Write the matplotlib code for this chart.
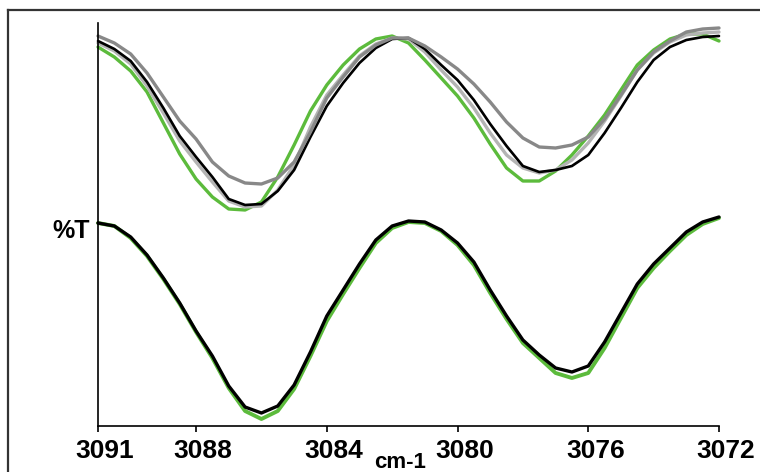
import numpy as np
import matplotlib.pyplot as plt
from matplotlib.lines import Line2D
from matplotlib.transforms import ScaledTranslation

# wavenumber grid, cm-1 (every 0.5 from 3091 down to 3072)
wavenumber = [3091.0, 3090.5, 3090.0, 3089.5, 3089.0, 3088.5, 3088.0, 3087.5, 3087.0, 3086.5,
              3086.0, 3085.5, 3085.0, 3084.5, 3084.0, 3083.5, 3083.0, 3082.5, 3082.0, 3081.5,
              3081.0, 3080.5, 3080.0, 3079.5, 3079.0, 3078.5, 3078.0, 3077.5, 3077.0, 3076.5,
              3076.0, 3075.5, 3075.0, 3074.5, 3074.0, 3073.5, 3073.0, 3072.5, 3072.0]

# upper set of spectra (%T, arbitrary units)
top_green = [379, 369, 355, 334, 303, 272, 247, 229, 217, 216, 224, 249, 281, 315, 341, 361, 377, 387, 390, 383,
             366, 348, 330, 308, 282, 258, 245, 245, 255, 271, 290, 311, 336, 361, 376, 387, 392, 392, 385]
top_black = [385, 377, 365, 344, 318, 290, 269, 249, 227, 221, 222, 235, 256, 289, 320, 343, 363, 378, 387, 388,
             377, 361, 346, 326, 302, 280, 260, 254, 256, 260, 271, 293, 318, 344, 366, 379, 386, 389, 390]
top_lightgray = [383, 375, 362, 340, 313, 285, 264, 244, 225, 219, 220, 236, 261, 299, 331, 351, 370, 382, 388, 387,
                 374, 356, 339, 318, 293, 271, 258, 253, 256, 266, 283, 305, 330, 356, 373, 384, 391, 393, 394]
top_darkgray = [390, 383, 372, 353, 329, 305, 287, 264, 250, 243, 242, 248, 264, 294, 328, 349, 369, 381, 388, 388,
                380, 369, 357, 342, 324, 304, 288, 279, 278, 281, 289, 307, 331, 356, 374, 385, 394, 397, 398]

# lower set of spectra
bot_green = [203, 200, 188, 170, 147, 122, 94, 68, 38, 15, 7, 15, 37, 70, 105, 132, 158, 183, 198, 204,
             203, 195, 181, 161, 133, 107, 83, 68, 53, 48, 53, 78, 108, 138, 158, 175, 191, 202, 208]
bot_black = [203, 200, 189, 171, 148, 123, 95, 70, 40, 19, 13, 20, 41, 74, 110, 136, 162, 186, 200, 205,
             204, 196, 183, 164, 136, 110, 86, 71, 58, 54, 60, 84, 113, 142, 162, 178, 194, 204, 209]

xticks = [3091, 3088, 3084, 3080, 3076, 3072]

GREEN = '#5cbb3c'
LIGHT = '#b4b4b4'
DARK = '#888888'

fig = plt.figure(figsize=(7.6, 4.72), dpi=100)
ax = fig.add_axes([98 / 760, 46 / 472, 621 / 760, 403 / 472])

lw = 2.4
style = dict(clip_on=False, solid_joinstyle='round', solid_capstyle='round')
ax.plot(wavenumber, top_green, color=GREEN, lw=lw, **style)
ax.plot(wavenumber, top_lightgray, color=LIGHT, lw=lw, **style)
ax.plot(wavenumber, top_black, color='black', lw=lw * 0.8, **style)
ax.plot(wavenumber, top_darkgray, color=DARK, lw=lw, **style)

ax.plot(wavenumber, bot_green, color=GREEN, lw=lw + 0.4, **style)
ax.plot(wavenumber, bot_black, color='black', lw=lw, **style)

ax.set_xlim(3091, 3072)
ax.set_ylim(0, 403)

ax.spines['top'].set_visible(False)
ax.spines['right'].set_visible(False)
ax.spines['left'].set_linewidth(1.2)
ax.spines['bottom'].set_linewidth(1.2)
ax.set_yticks([])
ax.set_xticks(xticks)
ax.set_xticklabels([str(t) for t in xticks], fontsize=19, fontweight='bold', family='Liberation Sans')
ax.tick_params(axis='x', direction='out', length=4, width=1.2, pad=5)
shift = ScaledTranslation(0.07, 0, fig.dpi_scale_trans)
for lab in ax.get_xticklabels():
    lab.set_transform(lab.get_transform() + shift)

fig.text(400 / 760, 1 - 462 / 472, 'cm-1', ha='center', va='center', fontsize=16,
         fontweight='bold', family='Liberation Sans')
fig.text(90 / 760, 1 - 231 / 472, '%T', ha='right', va='center', fontsize=18,
         fontweight='bold', family='Liberation Sans')

# outer frame of the original figure
fx, fy = 8 / 760, 1 - 10 / 472
fig.add_artist(Line2D([fx, 1], [fy, fy], transform=fig.transFigure, color='#333333', lw=1.6))
fig.add_artist(Line2D([fx, fx], [0, fy], transform=fig.transFigure, color='#333333', lw=1.6))

fig.savefig('out.png', dpi=100)
